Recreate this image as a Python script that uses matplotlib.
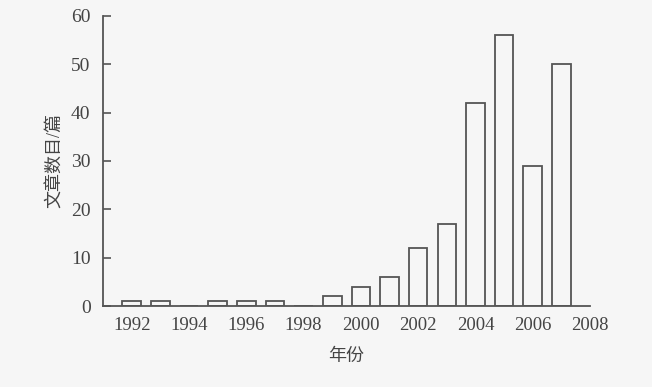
import matplotlib
matplotlib.use("Agg")
import matplotlib.pyplot as plt

# 年份与文章数目
years = [1992, 1993, 1994, 1995, 1996, 1997, 1998, 1999,
         2000, 2001, 2002, 2003, 2004, 2005, 2006, 2007]
counts = [1, 1, 0, 1, 1, 1, 0, 2, 4, 6, 12, 17, 42, 56, 29, 50]
xticks = [1992, 1994, 1996, 1998, 2000, 2002, 2004, 2006, 2008]
yticks = [0, 10, 20, 30, 40, 50, 60]

fam = ['Liberation Serif', 'Noto Sans CJK SC']
ink = '#555555'

fig = plt.figure(figsize=(6.52, 3.87), dpi=100, facecolor='#f6f6f6')
ax = fig.add_axes([0.158, 0.209, 0.747, 0.750])
ax.set_facecolor('#f6f6f6')

ax.bar(years, counts, width=0.65, facecolor='none', edgecolor=ink, linewidth=1.3)

ax.set_xlim(1991, 2008)
ax.set_ylim(0, 60)
ax.set_xticks(xticks)
ax.set_xticks([2008], minor=True)
ax.set_yticks(yticks)
ax.tick_params(axis='x', which='major', length=0, pad=8, labelsize=13.5,
               labelcolor='#444444')
ax.tick_params(axis='x', which='minor', direction='in', length=5, width=1.2, color=ink)
ax.tick_params(axis='y', direction='in', length=6, width=1.2, color=ink,
               pad=9, labelsize=14, labelcolor='#444444')
for lab in ax.get_xticklabels() + ax.get_yticklabels():
    lab.set_family(fam)

for s in ['top', 'right']:
    ax.spines[s].set_visible(False)
for s in ['left', 'bottom']:
    ax.spines[s].set_color(ink)
    ax.spines[s].set_linewidth(1.3)

ax.set_ylabel('文章数目/篇', family=fam, fontsize=13, color='#444444', labelpad=5)
ax.set_xlabel('年份', family=fam, fontsize=13, color='#444444', labelpad=10)

fig.savefig('out.png', dpi=100, facecolor=fig.get_facecolor())
